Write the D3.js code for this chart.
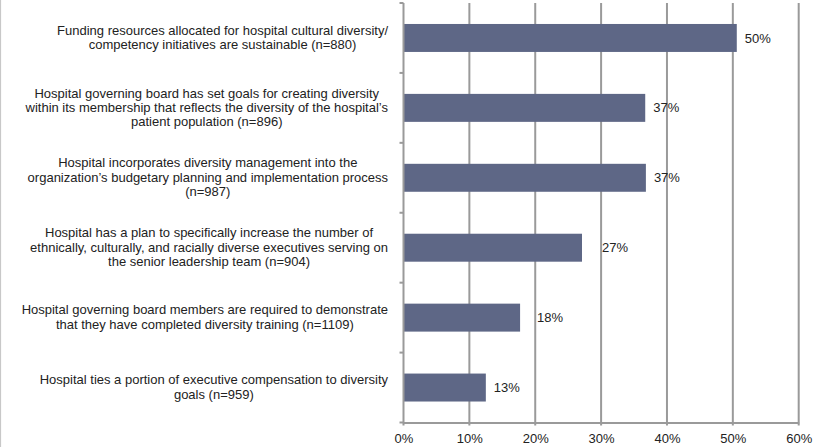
<!DOCTYPE html>
<html>
<head>
<meta charset="utf-8">
<script src="https://cdn.jsdelivr.net/npm/d3@7"></script>
<style>
  html, body { margin: 0; padding: 0; background: #fff; }
  svg { display: block; font-family: "Liberation Sans", Arial, sans-serif; }
</style>
</head>
<body>
<svg id="chart" width="814" height="447"></svg>
<script>
const categories = [
  ["Funding resources allocated for hospital cultural diversity/", "competency initiatives are sustainable (n=880)"],
  ["Hospital governing board has set goals for creating diversity", "within its membership that reflects the diversity of the hospital\u2019s", "patient population (n=896)"],
  ["Hospital incorporates diversity management into the", "organization\u2019s budgetary planning and implementation process", "(n=987)"],
  ["Hospital has a plan to specifically increase the number of", "ethnically, culturally, and racially diverse executives serving on", "the senior leadership team (n=904)"],
  ["Hospital governing board members are required to demonstrate", "that they have completed diversity training (n=1109)"],
  ["Hospital ties a portion of executive compensation to diversity", "goals (n=959)"]
];
const values = [50.6, 36.7, 36.8, 27.1, 17.7, 12.5];
const valueLabels = ["50%", "37%", "37%", "27%", "18%", "13%"];
const xTicks = [0, 10, 20, 30, 40, 50, 60];

// layout only (Excel label placement nudges, px)
const labelNudge = [0, 0, 0, 12, 9, 0];

const svg = d3.select("#chart");
const W = 814, H = 447;
const FS = "13px";
const m = { left: 403.5, right: 15.3, top: 3, bottom: 24.5 };
const x0 = m.left, x1 = W - m.right, y0 = m.top, y1 = H - m.bottom;

const x = d3.scaleLinear().domain([0, 60]).range([x0, x1]);
const y = d3.scaleBand().domain(d3.range(categories.length)).range([y0, y1]).paddingInner(0.6).paddingOuter(0.3);
const yb = d3.scaleBand().domain(d3.range(categories.length)).range([y0, y1]);

// outer frame (left edge only visible)
svg.append("line").attr("x1", 0.5).attr("x2", 0.5).attr("y1", 0).attr("y2", H)
  .attr("stroke", "#c8c8c8").attr("stroke-width", 1.2);

// gridlines
svg.append("g").selectAll("line").data(xTicks.slice(1)).join("line")
  .attr("x1", d => x(d)).attr("x2", d => x(d))
  .attr("y1", y0).attr("y2", y1 + 3)
  .attr("stroke", "#9a9a9a").attr("stroke-width", 2);

// bars
svg.append("g").selectAll("rect").data(values).join("rect")
  .attr("x", x(0)).attr("y", (d, i) => y(i))
  .attr("width", d => x(d) - x(0)).attr("height", y.bandwidth())
  .attr("fill", "#5e6786");

// value labels
svg.append("g").selectAll("text").data(values).join("text")
  .attr("x", (d, i) => x(d) + 8 + labelNudge[i])
  .attr("y", (d, i) => y(i) + y.bandwidth() / 2)
  .attr("dy", "0.35em")
  .attr("font-size", FS).attr("fill", "#222")
  .text((d, i) => valueLabels[i]);

// y axis line + category ticks
svg.append("line").attr("x1", x0).attr("x2", x0).attr("y1", y0).attr("y2", y1 + 3)
  .attr("stroke", "#9a9a9a").attr("stroke-width", 2);
svg.append("g").selectAll("line").data(d3.range(categories.length + 1)).join("line")
  .attr("x1", x0 - 4).attr("x2", x0)
  .attr("y1", i => y0 + i * yb.step()).attr("y2", i => y0 + i * yb.step())
  .attr("stroke", "#9a9a9a").attr("stroke-width", 2);

// x axis
const xAxis = d3.axisBottom(x).tickValues(xTicks).tickFormat(d => d + "%").tickSize(0).tickPadding(11.5);
const gx = svg.append("g").attr("transform", `translate(0,${y1})`).call(xAxis);
gx.select(".domain").attr("stroke", "#9a9a9a").attr("stroke-width", 2);
gx.selectAll("text").attr("font-size", FS).attr("fill", "#222")
  .attr("font-family", "Liberation Sans, Arial, sans-serif");

// category labels: block right-aligned, lines centered within block
const rightEdge = 388;
const lineH = 14.4;
categories.forEach((lines, i) => {
  const g = svg.append("g");
  const cy = yb(i) + yb.bandwidth() / 2 - 0.5;
  const texts = g.selectAll("text").data(lines).join("text")
    .attr("font-size", FS).attr("fill", "#222")
    .attr("text-anchor", "middle")
    .attr("y", (d, k) => cy + (k - (lines.length - 1) / 2) * lineH)
    .attr("dy", "0.35em")
    .text(d => d);
  let maxW = 0;
  texts.each(function () { maxW = Math.max(maxW, this.getComputedTextLength()); });
  texts.attr("x", rightEdge - maxW / 2);
});
</script>
</body>
</html>
